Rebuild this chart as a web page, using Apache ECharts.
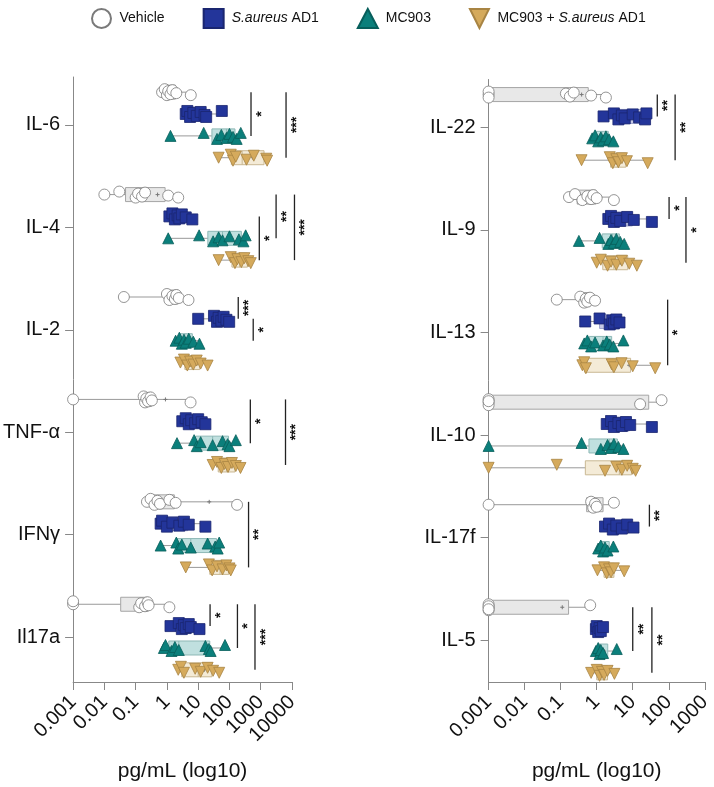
<!DOCTYPE html>
<html>
<head>
<meta charset="utf-8">
<script src="https://cdn.jsdelivr.net/npm/echarts@6/dist/echarts.min.js"></script>
<style>
html, body { margin: 0; padding: 0; background: #fff; }
#chart { width: 714px; height: 787px; }
</style>
</head>
<body>
<div id="chart"></div>
<script>
// groups and categories
var groups = ['Vehicle', 'S.aureus AD1', 'MC903', 'MC903 + S.aureus AD1'];
var leftCats = ['IL-6', 'IL-4', 'IL-2', 'TNF-α', 'IFNγ', 'Il17a'];
var rightCats = ['IL-22', 'IL-9', 'IL-13', 'IL-10', 'IL-17f', 'IL-5'];
var leftTicks = [0.001, 0.01, 0.1, 1, 10, 100, 1000, 10000];
var leftTickLabels = ['0.001', '0.01', '0.1', '1', '10', '100', '1000', '10000'];
var rightTicks = [0.001, 0.01, 0.1, 1, 10, 100, 1000];
var rightTickLabels = ['0.001', '0.01', '0.1', '1', '10', '100', '1000'];

// pg/mL per cytokine: [Vehicle, S.aureus AD1, MC903, MC903 + S.aureus AD1]
var il6 = [[0.7, 0.85, 1.0, 1.1, 1.3, 1.5, 2.0, 5.8], [4, 4.5, 5.5, 7, 9, 12, 16, 18, 57], [1.3, 15, 40, 55, 80, 100, 130, 170, 230], [45, 110, 130, 160, 350, 600, 1500, 1600]];
var il4 = [[0.01, 0.03, 0.1, 0.12, 0.16, 0.2, 1.1, 2.3], [1.2, 1.5, 1.8, 2.2, 2.5, 3, 4, 6.5], [1.1, 10.7, 30, 45, 60, 100, 200, 280, 330], [45, 110, 150, 180, 240, 300, 400, 480]];
var il2 = [[0.042, 1.0, 1.2, 1.5, 1.8, 2.0, 2.4, 4.9], [10, 32, 40, 45, 55, 65, 80, 98], [1.9, 2.5, 3, 3.5, 4, 5, 7, 11], [2.7, 3.5, 4.5, 5.5, 7, 9, 12, 20]];
var tnfa = [[0.001, 0.18, 0.2, 0.22, 0.25, 0.3, 0.33, 5.7], [3.1, 4, 5, 6, 8, 10, 13, 17], [2.1, 7.4, 9, 12, 29, 60, 87, 100, 160], [29, 40, 55, 70, 90, 120, 160, 225]];
var ifng = [[0.23, 0.3, 0.4, 0.5, 0.6, 1.2, 1.9, 175], [0.63, 0.7, 1.0, 1.5, 2.5, 3.5, 5, 17], [0.63, 2.0, 2.3, 3, 5.8, 20, 35, 42, 47], [4, 22, 28, 40, 60, 80, 100, 110]];
var il17a = [[0.001, 0.001, 0.13, 0.15, 0.2, 0.24, 0.26, 1.2], [1.3, 2.4, 3, 3.5, 4, 5, 5.8, 11], [0.8, 0.9, 1.4, 1.8, 2.4, 17, 22, 25, 72], [2.3, 2.8, 3.5, 8, 12, 20, 30, 47]];
var il22 = [[0.001, 0.001, 0.001, 0.14, 0.18, 0.23, 0.7, 1.8], [1.55, 3, 4, 5, 6, 10, 15, 22, 24], [0.75, 0.9, 1.1, 1.3, 1.5, 1.8, 2.2, 2.9], [0.38, 2.3, 2.8, 3.5, 4, 5, 6.9, 26]];
var il9 = [[0.17, 0.25, 0.4, 0.55, 0.7, 0.8, 1.0, 3], [2.1, 2.5, 3, 3.5, 4.5, 7, 10.7, 34], [0.32, 1.2, 2.1, 2.5, 3, 3.5, 4.5, 5.8], [1, 1.3, 2, 2.5, 3.5, 5, 8, 13]];
var il13 = [[0.078, 0.35, 0.45, 0.5, 0.55, 0.65, 0.9], [0.48, 1.2, 2.3, 2.7, 3, 3.5, 4.3], [0.45, 0.55, 0.7, 0.9, 1.5, 1.9, 2.3, 2.9, 5.5], [0.4, 0.45, 0.5, 2.6, 3, 4.9, 10, 42]];
var il10 = [[0.001, 0.001, 0.001, 0.001, 16, 63], [1.9, 2.5, 3, 4, 5, 6.5, 8.5, 34], [0.001, 0.38, 1.3, 2, 2.5, 3, 4, 5.5], [0.001, 0.078, 1.7, 3.5, 5, 7, 10, 12]];
var il17f = [[0.001, 0.7, 0.8, 0.9, 1.0, 3], [1.7, 2.2, 2.8, 3.5, 5, 7, 10.5], [1.1, 1.3, 1.5, 1.7, 2, 2.9], [1.05, 1.6, 1.9, 2.2, 2.5, 3, 5.8]];
var il5 = [[0.001, 0.001, 0.001, 0.001, 0.001, 0.66], [0.95, 1.0, 1.1, 1.2, 1.3, 1.5], [0.95, 1.1, 1.2, 1.3, 1.5, 3.6], [0.7, 1.0, 1.2, 1.4, 1.6, 2, 3.1]];

var leftData = [il6, il4, il2, tnfa, ifng, il17a];
var rightData = [il22, il9, il13, il10, il17f, il5];

// significance: [category, fromGroup, toGroup, x level (pg/mL), stars]
var leftSig = [
    [0, 0, 2, 489, '*'], [0, 0, 3, 6450, '***'],
    [1, 1, 3, 900, '*'], [1, 0, 2, 3100, '**'], [1, 0, 3, 12000, '***'],
    [2, 0, 1, 191, '***'], [2, 1, 2, 575, '*'],
    [3, 0, 2, 465, '*'], [3, 0, 3, 6200, '***'],
    [4, 0, 3, 408, '**'],
    [5, 0, 1, 24, '*'], [5, 0, 2, 180, '*'], [5, 0, 3, 655, '***']
];
var rightSig = [
    [0, 0, 1, 48, '**'], [0, 0, 3, 150, '**'],
    [1, 0, 1, 102, '*'], [1, 0, 3, 300, '*'],
    [2, 0, 3, 93, '*'],
    [4, 0, 1, 29, '**'],
    [5, 0, 2, 10, '**'], [5, 0, 3, 34, '**']
];

var rowOffset = [-0.32, -0.107, 0.107, 0.32];
var pointColor = ['#ffffff', '#23359a', '#0b7f7b', '#d5aa5c'];
var pointBorder = ['#7a7a7a', '#1a2670', '#075e5b', '#a88443'];
var boxFill = ['#e8e8e8', '#c7cae6', '#c0e0df', '#f4ebd7'];
var boxStroke = ['#a5a5a5', '#9ea3cc', '#8db8b6', '#c9b893'];
var symbols = ['circle', 'rect', 'triangle', 'path://M0,0 L10,0 L5,10 Z'];
var jitter = [0, -3, 3, -1, 2, -2, 1, 3, -3];
var font = "'Liberation Sans', Arial, sans-serif";

function pct(s, p) {
    var n = s.length;
    var pos = p * (n + 1);
    if (pos <= 1) return s[0];
    if (pos >= n) return s[n - 1];
    var i = Math.floor(pos), f = pos - i;
    return s[i - 1] + f * (s[i] - s[i - 1]);
}

function boxRows(data) {
    var rows = [];
    for (var c = 0; c < data.length; c++) {
        for (var g = 0; g < 4; g++) {
            var s = data[c][g].slice().sort(function(a, b) { return a - b; });
            var sum = 0;
            for (var k = 0; k < s.length; k++) sum += s[k];
            rows.push([c + rowOffset[g], s[0], pct(s, 0.25), pct(s, 0.5), pct(s, 0.75), s[s.length - 1], sum / s.length, g]);
        }
    }
    return rows;
}

function pointRows(data, g) {
    var pts = [];
    for (var c = 0; c < data.length; c++) {
        var vals = data[c][g];
        for (var k = 0; k < vals.length; k++) {
            pts.push({value: [vals[k], c + rowOffset[g]], symbolOffset: [0, jitter[k % jitter.length]]});
        }
    }
    return pts;
}

function renderBox(params, api) {
    var y = api.value(0);
    var lo = api.coord([api.value(1), y]);
    var q1 = api.coord([api.value(2), y]);
    var md = api.coord([api.value(3), y]);
    var q3 = api.coord([api.value(4), y]);
    var hi = api.coord([api.value(5), y]);
    var mn = api.coord([api.value(6), y]);
    var g = api.value(7);
    var h = 7;
    return {
        type: 'group',
        children: [
            {type: 'line', shape: {x1: lo[0], y1: lo[1], x2: hi[0], y2: hi[1]}, style: {stroke: '#999', lineWidth: 1}},
            {type: 'rect', shape: {x: q1[0], y: q1[1] - h, width: Math.max(q3[0] - q1[0], 1), height: 2 * h},
                style: {fill: boxFill[g], stroke: boxStroke[g], lineWidth: 1}},
            {type: 'line', shape: {x1: md[0], y1: md[1] - h, x2: md[0], y2: md[1] + h}, style: {stroke: boxStroke[g], lineWidth: 1}},
            {type: 'line', shape: {x1: mn[0] - 2, y1: mn[1], x2: mn[0] + 2, y2: mn[1]}, style: {stroke: '#777', lineWidth: 1}},
            {type: 'line', shape: {x1: mn[0], y1: mn[1] - 2, x2: mn[0], y2: mn[1] + 2}, style: {stroke: '#777', lineWidth: 1}}
        ]
    };
}

function sigRenderer(sig) {
    return function(params, api) {
        var s = sig[params.dataIndex];
        var a = api.coord([s[3], s[0] + rowOffset[s[1]]]);
        var b = api.coord([s[3], s[0] + rowOffset[s[2]]]);
        return {
            type: 'group',
            children: [
                {type: 'line', shape: {x1: a[0], y1: a[1], x2: b[0], y2: b[1]}, style: {stroke: '#222', lineWidth: 1.3}},
                {type: 'text', x: a[0] + 11, y: (a[1] + b[1]) / 2, rotation: Math.PI / 2,
                    style: {text: s[4], fill: '#111', font: 'bold 14px ' + font, align: 'center', verticalAlign: 'middle'}}
            ]
        };
    };
}

function xAxisFor(grid, max, ticks, labels) {
    return {
        type: 'log', gridIndex: grid, logBase: 10, min: 0.001, max: max,
        name: 'pg/mL (log10)', nameLocation: 'middle', nameGap: 79,
        nameTextStyle: {fontSize: 21, color: '#111', fontFamily: font},
        axisLine: {show: true, onZero: false, lineStyle: {color: '#888', width: 1}},
        axisTick: {show: true, length: 8, lineStyle: {color: '#888'}, customValues: ticks},
        axisLabel: {
            rotate: 45, fontSize: 20, color: '#111', fontFamily: font, margin: 17, customValues: ticks,
            formatter: function(v) { return labels[Math.round(Math.log10(v)) + 3]; }
        },
        splitLine: {show: false}, minorTick: {show: false}
    };
}

function yAxisFor(grid, min, max, cats) {
    return {
        type: 'value', gridIndex: grid, inverse: true, min: min, max: max,
        axisLine: {show: true, onZero: false, lineStyle: {color: '#888', width: 1}},
        axisTick: {show: true, length: 8, lineStyle: {color: '#888'}, customValues: [0, 1, 2, 3, 4, 5]},
        axisLabel: {
            fontSize: 20, color: '#111', fontFamily: font, margin: 13, customValues: [0, 1, 2, 3, 4, 5],
            formatter: function(v) { return cats[Math.round(v)]; }
        },
        splitLine: {show: false}
    };
}

var series = [];
[[leftData, leftSig, 0], [rightData, rightSig, 1]].forEach(function(p) {
    series.push({
        type: 'custom', xAxisIndex: p[2], yAxisIndex: p[2], renderItem: renderBox,
        data: boxRows(p[0]), encode: {x: [1, 2, 3, 4, 5, 6], y: 0}, z: 1, silent: true
    });
    for (var g = 0; g < 4; g++) {
        series.push({
            name: groups[g], type: 'scatter', xAxisIndex: p[2], yAxisIndex: p[2],
            symbol: symbols[g], symbolSize: 11,
            itemStyle: {color: pointColor[g], borderColor: pointBorder[g], borderWidth: 0.8, opacity: 1},
            data: pointRows(p[0], g), z: 3
        });
    }
    series.push({
        type: 'custom', xAxisIndex: p[2], yAxisIndex: p[2], renderItem: sigRenderer(p[1]),
        data: p[1].map(function(s) { return [s[3], s[0]]; }), encode: {x: 0, y: 1}, clip: false, z: 4, silent: true
    });
});

var chart = echarts.init(document.getElementById('chart'));
chart.setOption({
    animation: false,
    backgroundColor: '#fff',
    legend: {
        top: 3, left: 86, itemGap: 38, itemWidth: 20, itemHeight: 19,
        data: groups,
        textStyle: {
            fontSize: 14, color: '#111', fontFamily: font, padding: [0, 0, 0, 3],
            rich: {i: {fontStyle: 'italic', fontSize: 14, color: '#111', fontFamily: font}}
        },
        formatter: function(n) { return n.replace('S.aureus', '{i|S.aureus}'); }
    },
    grid: [
        {left: 71.5, right: 422, top: 77, bottom: 103},
        {left: 488.6, right: 6, top: 79.5, bottom: 103}
    ],
    xAxis: [
        xAxisFor(0, 10000, leftTicks, leftTickLabels),
        xAxisFor(1, 1000, rightTicks, rightTickLabels)
    ],
    yAxis: [
        yAxisFor(0, -0.468, 5.439, leftCats),
        yAxisFor(1, -0.467, 5.409, rightCats)
    ],
    series: series
});
</script>
</body>
</html>
